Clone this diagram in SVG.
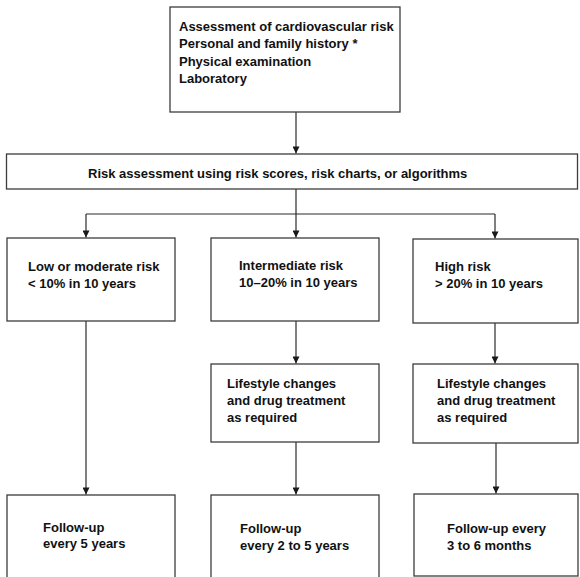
<svg xmlns="http://www.w3.org/2000/svg" width="580" height="577" viewBox="0 0 580 577">
<style>
.box{fill:#fff;stroke:#3c3c3c;stroke-width:1.3}
.t{font-family:"Liberation Sans",Arial,sans-serif;font-weight:bold;font-size:13px;fill:#111}
.c{fill:none;stroke:#2a2a2a;stroke-width:1.2}
</style>
<defs>
<marker id="ah" viewBox="0 0 10 10" refX="10" refY="5" markerWidth="9" markerHeight="7" markerUnits="userSpaceOnUse" orient="auto">
<path d="M0,0 L10,5 L0,10 z" fill="#1a1a1a"/>
</marker>
</defs>
<rect x="0" y="0" width="580" height="577" fill="#fff"/>
<g id="connectors">
<path class="c" d="M296,112 V153.5" marker-end="url(#ah)"/>
<path class="c" d="M296,189 V214 M86,214 H495"/>
<path class="c" d="M86,214 V237.5" marker-end="url(#ah)"/>
<path class="c" d="M296,214 V237.5" marker-end="url(#ah)"/>
<path class="c" d="M495,214 V238.5" marker-end="url(#ah)"/>
<path class="c" d="M86,321 V494.5" marker-end="url(#ah)"/>
<path class="c" d="M296,321 V363.5" marker-end="url(#ah)"/>
<path class="c" d="M296,442 V494.5" marker-end="url(#ah)"/>
<path class="c" d="M495,323 V363.5" marker-end="url(#ah)"/>
<path class="c" d="M496,443 V493.5" marker-end="url(#ah)"/>
</g>
<g id="assessment">
<rect class="box" x="170" y="7" width="230" height="105"/>
<text class="t" x="179" y="31">Assessment of cardiovascular risk</text>
<text class="t" x="179" y="48.3">Personal and family history *</text>
<text class="t" x="179" y="65.6">Physical examination</text>
<text class="t" x="179" y="82.9">Laboratory</text>
</g>
<g id="risk-assessment">
<rect class="box" x="6.5" y="154" width="571" height="35"/>
<text class="t" x="88" y="178">Risk assessment using risk scores, risk charts, or algorithms</text>
</g>
<g id="low-risk">
<rect class="box" x="7" y="238" width="168" height="83"/>
<text class="t" x="28" y="271">Low or moderate risk</text>
<text class="t" x="28" y="288">&lt; 10% in 10 years</text>
</g>
<g id="intermediate-risk">
<rect class="box" x="211" y="238" width="168" height="83"/>
<text class="t" x="239" y="270">Intermediate risk</text>
<text class="t" x="239" y="287">10–20% in 10 years</text>
</g>
<g id="high-risk">
<rect class="box" x="413" y="239" width="165" height="84"/>
<text class="t" x="435" y="271">High risk</text>
<text class="t" x="435" y="288">&gt; 20% in 10 years</text>
</g>
<g id="intermediate-treatment">
<rect class="box" x="211" y="364" width="168" height="78"/>
<text class="t" x="227" y="388">Lifestyle changes</text>
<text class="t" x="227" y="405">and drug treatment</text>
<text class="t" x="227" y="422">as required</text>
</g>
<g id="high-treatment">
<rect class="box" x="413" y="364" width="165" height="79"/>
<text class="t" x="437" y="388">Lifestyle changes</text>
<text class="t" x="437" y="405">and drug treatment</text>
<text class="t" x="437" y="422">as required</text>
</g>
<g id="low-followup">
<rect class="box" x="7" y="495" width="168" height="90"/>
<text class="t" x="43" y="532">Follow-up</text>
<text class="t" x="43" y="548">every 5 years</text>
</g>
<g id="intermediate-followup">
<rect class="box" x="211" y="495" width="168" height="90"/>
<text class="t" x="240" y="533">Follow-up</text>
<text class="t" x="240" y="550">every 2 to 5 years</text>
</g>
<g id="high-followup">
<rect class="box" x="414" y="494" width="164" height="82"/>
<text class="t" x="447" y="533">Follow-up every</text>
<text class="t" x="447" y="550">3 to 6 months</text>
</g>
</svg>
